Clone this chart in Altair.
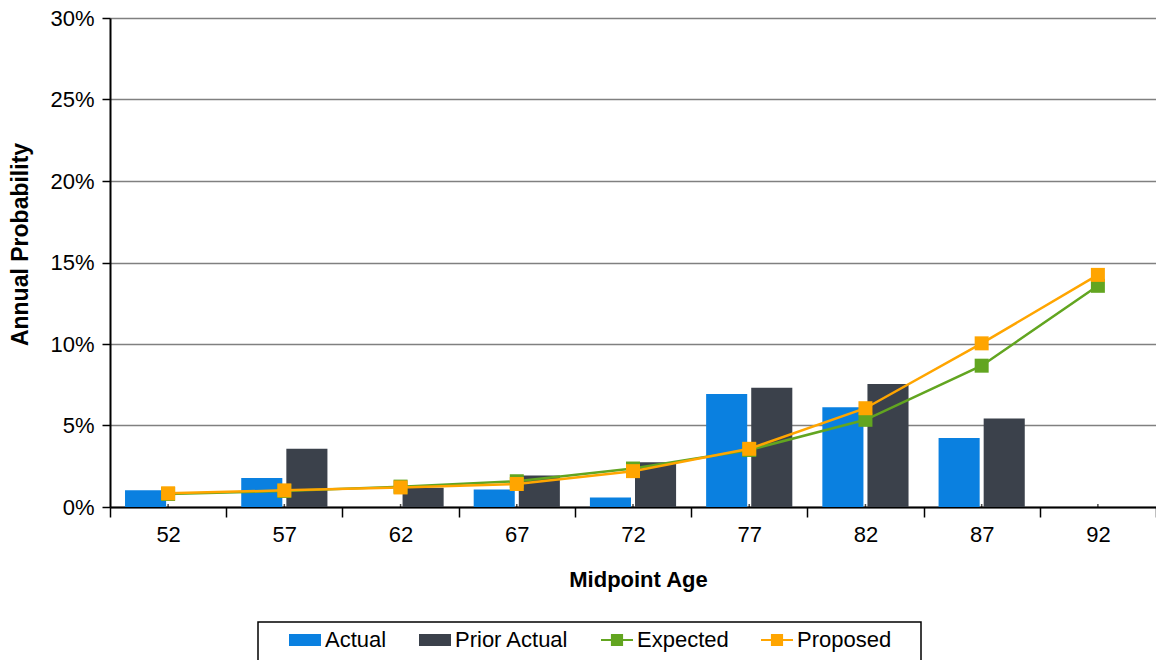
import altair as alt
import pandas as pd

# Midpoint ages (x categories)
ages = ["52", "57", "62", "67", "72", "77", "82", "87", "92"]

# Annual probabilities in percent (None = no bar for that age)
actual = [1.02, 1.78, None, 1.08, 0.59, 6.94, 6.12, 4.24, None]
prior_actual = [None, 3.57, 1.18, 1.94, 2.74, 7.31, 7.55, 5.43, None]
expected = [0.80, 0.98, 1.25, 1.58, 2.36, 3.50, 5.35, 8.67, 13.57]
proposed = [0.84, 1.02, 1.20, 1.41, 2.20, 3.57, 6.06, 10.04, 14.24]

series_names = ["Actual", "Prior Actual", "Expected", "Proposed"]
series_colors = ["#0A80E0", "#3B414B", "#62A520", "#FFA500"]
y_ticks = [0, 0.05, 0.10, 0.15, 0.20, 0.25, 0.30]

rows = []
for name, vals in zip(series_names, [actual, prior_actual, expected, proposed]):
    for a, v in zip(ages, vals):
        if v is not None:
            rows.append({"age": a, "series": name, "value": v / 100.0})
df = pd.DataFrame(rows)

FONT = "Liberation Sans"

color_scale = alt.Scale(domain=series_names, range=series_colors)

# Legend glyphs: wide block for bars, line with a square marker for lines
bar_shape = "M-1,-0.375H1V0.375H-1Z"
line_shape = "M-1,-0.07H1V0.07H-1Z M-0.38,-0.38H0.38V0.38H-0.38Z"
shape_scale = alt.Scale(
    domain=series_names, range=[bar_shape, bar_shape, line_shape, line_shape]
)

x_enc = alt.X(
    "age:O",
    sort=ages,
    scale=alt.Scale(paddingInner=0, paddingOuter=0),
    axis=alt.Axis(
        title="Midpoint Age",
        tickBand="extent",
        labelAngle=0,
        labelFont=FONT,
        labelFontSize=22,
        labelColor="black",
        labelPadding=7,
        titleFont=FONT,
        titleFontSize=22,
        titleFontWeight="bold",
        titleColor="black",
        titleX=528,
        titleY=72,
        titleBaseline="middle",
        domainColor="black",
        domainWidth=2,
        tickColor="black",
        tickWidth=1.5,
        tickSize=10,
        grid=False,
    ),
)

y_enc = alt.Y(
    "value:Q",
    scale=alt.Scale(domain=[0, 0.3], nice=False),
    axis=alt.Axis(
        title="Annual Probability",
        values=y_ticks,
        format=".0%",
        labelFont=FONT,
        labelFontSize=22,
        labelColor="black",
        labelPadding=8,
        titleFont=FONT,
        titleFontSize=23,
        titleFontWeight="bold",
        titleColor="black",
        titleAngle=270,
        titleX=-90,
        titleY=226,
        titleAlign="center",
        titleBaseline="middle",
        domainColor="black",
        domainWidth=2,
        tickColor="black",
        tickWidth=1.5,
        tickSize=8,
        grid=True,
        gridColor="#808080",
        gridWidth=1.5,
    ),
)

legend = alt.Legend(
    title=None,
    orient="none",
    legendX=179,
    legendY=606,
    direction="horizontal",
    columns=4,
    padding=0,
    columnPadding=32,
    labelOffset=4,
    labelFont=FONT,
    labelFontSize=22,
    labelColor="black",
    symbolSize=1024,
    symbolStrokeWidth=0,
    symbolOpacity=1,
)

# Point layer with no rows: it carries the legend (colour + glyph per series)
legend_layer = (
    alt.Chart(df)
    .transform_filter("false")
    .mark_point(filled=True, opacity=1)
    .encode(
        x=x_enc,
        y=y_enc,
        color=alt.Color("series:N", scale=color_scale, legend=legend),
        shape=alt.Shape("series:N", scale=shape_scale, legend=legend),
    )
)

bars = (
    alt.Chart(df)
    .transform_filter(alt.FieldOneOfPredicate(field="series", oneOf=["Actual", "Prior Actual"]))
    .mark_bar()
    .encode(
        x=x_enc,
        xOffset=alt.XOffset(
            "series:N",
            sort=["Actual", "Prior Actual"],
            scale=alt.Scale(paddingInner=0.0889, paddingOuter=0.333),
        ),
        y=y_enc,
        color=alt.Color("series:N", scale=color_scale),
    )
)


def line_layer(name):
    return (
        alt.Chart(df)
        .transform_filter(alt.datum.series == name)
        .mark_line(
            strokeWidth=2.5,
            point=alt.OverlayMarkDef(shape="square", size=196, filled=True, opacity=1),
        )
        .encode(
            x=x_enc,
            y=y_enc,
            color=alt.Color("series:N", scale=color_scale),
        )
    )


# Small tick marks at category centres, sitting on the x axis
center_ticks = (
    alt.Chart(pd.DataFrame({"age": ages}))
    .mark_tick(color="black", thickness=1.5, size=5)
    .encode(x=alt.X("age:O", sort=ages), y=alt.value(486))
)

# Frame around the legend
legend_frame = (
    alt.Chart(pd.DataFrame({"k": [0]}))
    .mark_rect(filled=False, stroke="black", strokeWidth=1.5)
    .encode(x=alt.value(148), x2=alt.value(811), y=alt.value(604), y2=alt.value(664))
)

chart = (
    alt.layer(
        legend_layer,
        bars,
        line_layer("Expected"),
        line_layer("Proposed"),
        center_ticks,
        legend_frame,
    )
    .properties(
        width=1046,
        height=489,
        autosize=alt.AutoSizeParams(type="none"),
        padding={"left": 110, "top": 18, "right": 0, "bottom": 153},
        background="white",
    )
    .configure_view(stroke=None)
)

chart.save("out.html", embed_options={"renderer": "svg", "actions": False})
